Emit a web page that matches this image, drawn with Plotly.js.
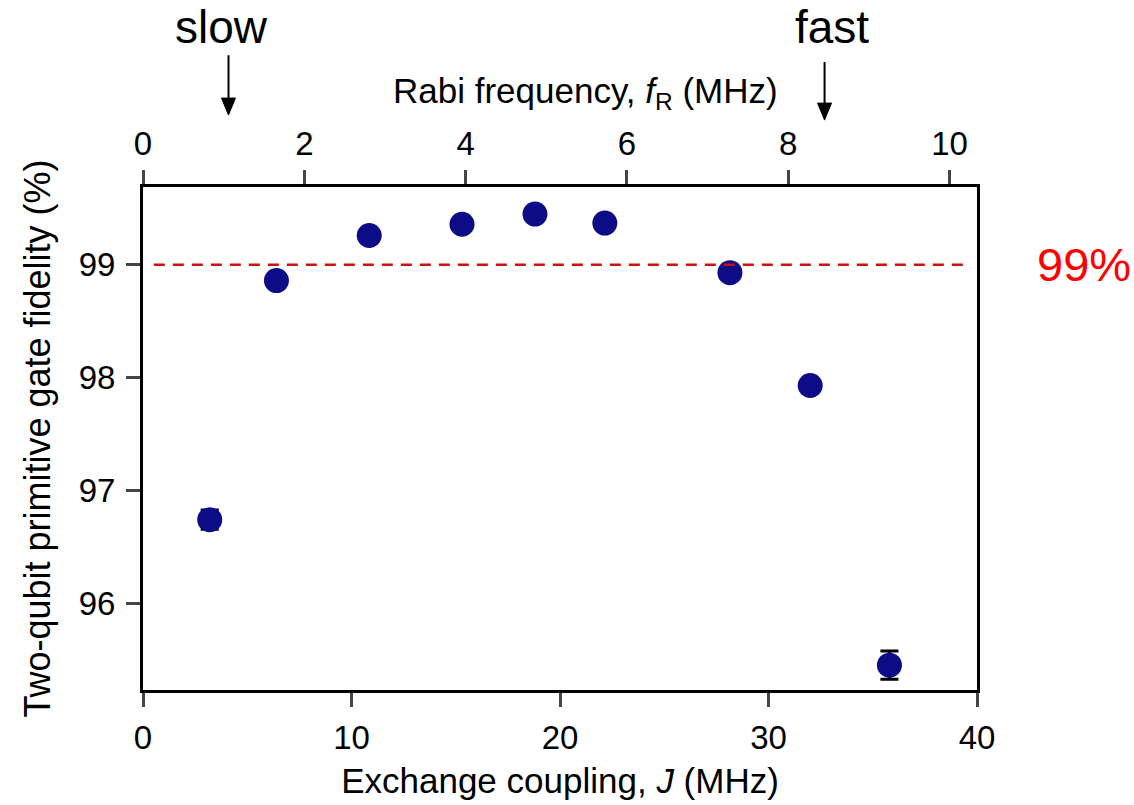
<!DOCTYPE html>
<html><head><meta charset="utf-8">
<script src="https://cdn.plot.ly/plotly-3.0.1.min.js"></script>
<style>html,body{margin:0;padding:0;background:#fff}#plot{width:1134px;height:805px}</style>
</head><body><div id="plot"></div>
<script>
// Data
const exchangeJ = [3.2, 6.4, 10.85, 15.3, 18.8, 22.15, 28.15, 32.0, 35.8];
const fidelity  = [96.74, 98.86, 99.26, 99.36, 99.45, 99.37, 98.93, 97.93, 95.45];
const fidErr    = [0.085, 0.05, 0.05, 0.05, 0.05, 0.05, 0.05, 0.05, 0.125];
const threshold = 99;
const thresholdLabel = '99%';
const topTicks = [0, 2, 4, 6, 8, 10];
const bottomTicks = [0, 10, 20, 30, 40];
const yTicks = [96, 97, 98, 99];
const topRange = [0, 10.34];
const slowRabi = 1.06, fastRabi = 8.45;

const font = 'Liberation Sans, Arial, sans-serif';

const data = [
  {x: topRange, y: [null, null], xaxis: 'x2', yaxis: 'y', mode: 'markers', showlegend: false, hoverinfo: 'skip'},
  {
    x: exchangeJ, y: fidelity, mode: 'markers', type: 'scatter',
    marker: {color: '#0c0c86', size: 25},
    error_y: {type: 'data', array: fidErr, visible: true, color: '#000', thickness: 3, width: 9},
    showlegend: false
  }
];

const px = v => (v - topRange[0]) / (topRange[1] - topRange[0]);
function arrow(xv, yTop, yTip) {
  const xp = px(xv);
  return [
    {type: 'line', xref: 'paper', yref: 'paper', x0: xp, x1: xp, y0: yTop, y1: yTip + 0.02,
     line: {color: '#000', width: 2}},
    {type: 'path', xref: 'paper', yref: 'paper', xsizemode: 'pixel', ysizemode: 'pixel',
     xanchor: xp, yanchor: yTip, path: 'M-7,17 L7,17 L0,0 Z',
     fillcolor: '#000', line: {color: '#000', width: 1}}
  ];
}

const layout = {
  width: 1134, height: 805,
  margin: {l: 143, r: 157, t: 187, b: 115},
  paper_bgcolor: '#fff', plot_bgcolor: '#fff',
  font: {family: font, color: '#000', size: 33},
  xaxis: {
    range: [0, 40], tickvals: bottomTicks, ticks: 'outside', ticklen: 14, tickwidth: 3,
    showline: true, linewidth: 3, linecolor: '#000', mirror: true, showgrid: false, zeroline: false,
    tickfont: {size: 33}, ticklabelstandoff: 2,
    title: {text: 'Exchange coupling, <i>J</i> (MHz)', font: {size: 35}, standoff: 14}
  },
  xaxis2: {
    overlaying: 'x', side: 'top', range: topRange, tickvals: topTicks, ticks: 'outside', ticklen: 14, tickwidth: 3,
    showline: true, linewidth: 3, linecolor: '#000', showgrid: false, zeroline: false,
    tickfont: {size: 33}, ticklabelstandoff: 2
  },
  yaxis: {
    range: [95.23, 99.69], tickvals: yTicks, ticks: 'outside', ticklen: 14, tickwidth: 3,
    showline: true, linewidth: 3, linecolor: '#000', mirror: true, showgrid: false, zeroline: false,
    tickfont: {size: 33}, ticklabelstandoff: 4,
    title: {text: 'Two-qubit primitive gate fidelity (%)', font: {size: 36}, standoff: 18}
  },
  shapes: [
    {type: 'line', xref: 'paper', x0: 0.013, x1: 0.989, yref: 'y', y0: threshold, y1: threshold,
     line: {color: '#cc1111', width: 2.5, dash: '11px,8px'}},
    ...arrow(slowRabi, 1.262, 1.143),
    ...arrow(fastRabi, 1.2485, 1.133)
  ],
  annotations: [
    {xref: 'paper', x: (585 - 143) / 834, yref: 'paper', y: 1.187, text: 'Rabi frequency, <i>f</i><sub>R</sub> (MHz)',
     showarrow: false, xanchor: 'center', yanchor: 'middle', font: {size: 35}},
    {xref: 'paper', x: 1.069, yref: 'y', y: threshold, text: thresholdLabel, showarrow: false,
     xanchor: 'left', yanchor: 'middle', font: {size: 47, color: '#ff0000'}},
    {xref: 'paper', x: (221 - 143) / 834, yref: 'paper', y: 1.318, text: 'slow', showarrow: false, xanchor: 'center', yanchor: 'middle',
     font: {size: 46}},
    {xref: 'paper', x: (832 - 143) / 834, yref: 'paper', y: 1.318, text: 'fast', showarrow: false, xanchor: 'center', yanchor: 'middle',
     font: {size: 46}}
  ]
};

Plotly.newPlot('plot', data, layout, {displayModeBar: false, staticPlot: true});
</script></body></html>
